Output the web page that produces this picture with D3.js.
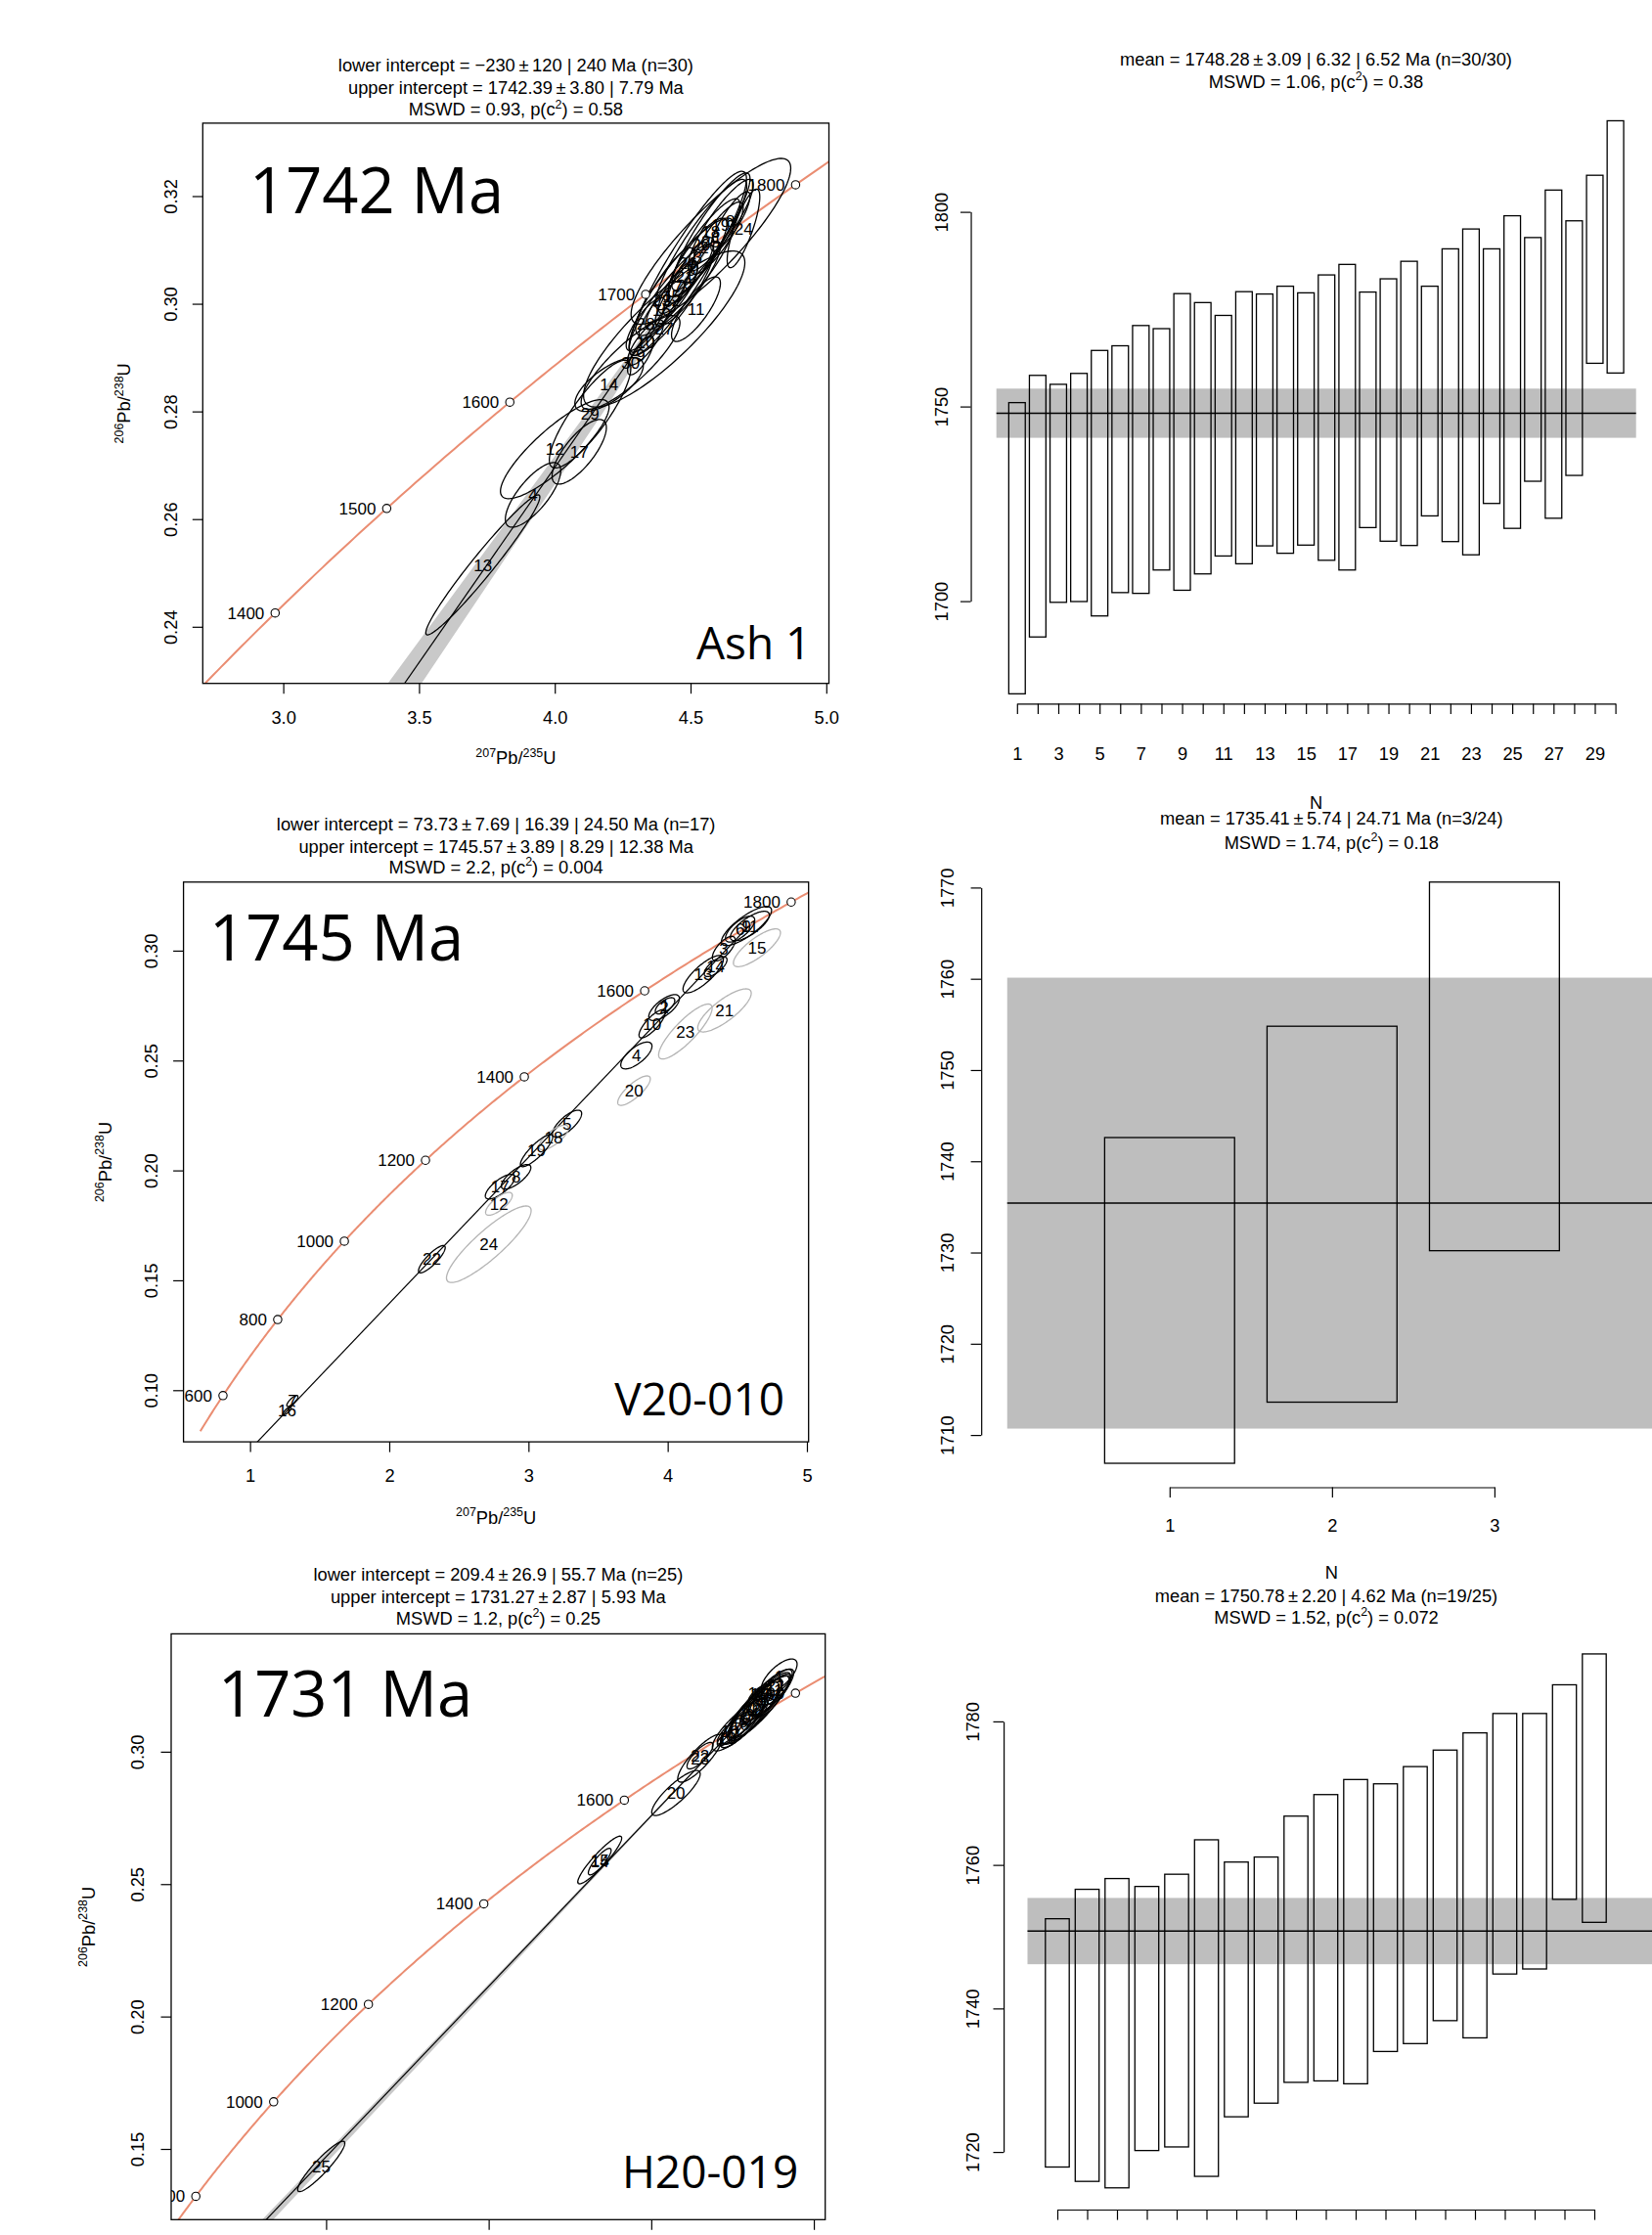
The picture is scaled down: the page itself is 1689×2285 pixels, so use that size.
<!DOCTYPE html>
<html>
<head>
<meta charset="utf-8">
<script src="https://cdn.jsdelivr.net/npm/d3@7"></script>
<style>
  body { margin: 0; background: #fff; }
  svg { display: block; font-family: "Liberation Sans", Arial, sans-serif; }
</style>
</head>
<body>
<svg id="fig" width="1689" height="2285"></svg>
<script>
'use strict';

// ---- decay constants (per Ma) ----
const LAMBDA238 = 1.55125e-4;
const LAMBDA235 = 9.8485e-4;

// ================= Ash 1 =================
const ash1Titles = [
  "lower intercept = \u2212230\u2009\u00b1\u2009120 | 240 Ma (n=30)",
  "upper intercept = 1742.39\u2009\u00b1\u20093.80 | 7.79 Ma",
  "MSWD = 0.93, p(c^{2}) = 0.58"
];
const ash1XTicks = [3.0, 3.5, 4.0, 4.5, 5.0];
const ash1YTicks = [0.24, 0.26, 0.28, 0.30, 0.32];
const ash1Ages = [1400, 1500, 1600, 1700, 1800];
const ash1AgeRange = [1300, 1850];
const ash1Intercepts = [-230, 1742.39];
// [206/238, left 207/235, right 207/235] of the grey envelope
const ash1Band = [[0.2294, 3.384, 3.508], [0.28, 4.121, 4.180], [0.3103, 4.557, 4.567]];
// [label, x, y, half x, half y, rho]
const ash1Ellipses = [
  [25, 4.575, 0.3116, 0.294, 0.0154, 0.88],
  [26, 4.490, 0.3075, 0.216, 0.0171, 0.92],
  [27, 4.403, 0.2953, 0.297, 0.0145, 0.85],
  [13, 3.735, 0.2515, 0.210, 0.0130, 0.97],
  [4, 3.920, 0.2645, 0.102, 0.0060, 0.75],
  [12, 4.000, 0.2730, 0.200, 0.0092, 0.85],
  [17, 4.090, 0.2725, 0.100, 0.0060, 0.75],
  [29, 4.130, 0.2795, 0.150, 0.0100, 0.85],
  [14, 4.200, 0.2850, 0.126, 0.0050, 0.70],
  [30, 4.279, 0.2891, 0.182, 0.0087, 0.85],
  [18, 4.575, 0.3134, 0.144, 0.0109, 0.90],
  [19, 4.611, 0.3146, 0.120, 0.0085, 0.88],
  [20, 4.539, 0.3110, 0.168, 0.0121, 0.90],
  [21, 4.478, 0.3050, 0.180, 0.0109, 0.88],
  [22, 4.430, 0.3007, 0.156, 0.0103, 0.88],
  [23, 4.394, 0.3007, 0.120, 0.0097, 0.88],
  [8, 4.647, 0.3153, 0.072, 0.0055, 0.85],
  [1, 4.598, 0.3122, 0.096, 0.0067, 0.85],
  [2, 4.550, 0.3104, 0.132, 0.0091, 0.88],
  [3, 4.526, 0.3086, 0.108, 0.0073, 0.85],
  [5, 4.502, 0.3062, 0.084, 0.0061, 0.85],
  [6, 4.490, 0.3037, 0.120, 0.0079, 0.88],
  [7, 4.454, 0.3031, 0.072, 0.0049, 0.80],
  [15, 4.430, 0.3013, 0.096, 0.0061, 0.85],
  [16, 4.394, 0.2989, 0.084, 0.0055, 0.85],
  [11, 4.520, 0.2990, 0.090, 0.0060, 0.80],
  [24, 4.695, 0.3140, 0.060, 0.0073, 0.80],
  [28, 4.335, 0.2962, 0.072, 0.0049, 0.80],
  [10, 4.334, 0.2928, 0.066, 0.0042, 0.80],
  [9, 4.316, 0.2904, 0.048, 0.0036, 0.75]
];
const ash1Rejected = [];

const ash1MeanTitles = [
  "mean = 1748.28\u2009\u00b1\u20093.09 | 6.32 | 6.52 Ma (n=30/30)",
  "MSWD = 1.06, p(c^{2}) = 0.38"
];
const ash1MeanYTicks = [1700, 1750, 1800];
const ash1Mean = [1748.28, 6.32];
const ash1Lo = [1676.2, 1690.8, 1699.7, 1699.9, 1696.2, 1702.2, 1702.0, 1708.0, 1702.8, 1707.0,
  1711.6, 1709.6, 1714.2, 1712.3, 1714.4, 1710.5, 1708.0, 1718.9, 1715.4, 1714.3,
  1721.9, 1715.3, 1711.9, 1725.1, 1718.7, 1730.8, 1721.3, 1732.3, 1761.1, 1758.6];
const ash1Hi = [1751.0, 1758.0, 1755.7, 1758.5, 1764.4, 1765.6, 1770.8, 1770.0, 1779.0, 1776.7,
  1773.4, 1779.5, 1778.9, 1780.9, 1779.2, 1783.8, 1786.5, 1779.4, 1782.8, 1787.3,
  1780.9, 1790.5, 1795.6, 1790.5, 1799.0, 1793.4, 1805.6, 1797.7, 1809.4, 1823.4];

// ================= V20-010 =================
const v20Titles = [
  "lower intercept = 73.73\u2009\u00b1\u20097.69 | 16.39 | 24.50 Ma (n=17)",
  "upper intercept = 1745.57\u2009\u00b1\u20093.89 | 8.29 | 12.38 Ma",
  "MSWD = 2.2, p(c^{2}) = 0.004"
];
const v20XTicks = [1, 2, 3, 4, 5];
const v20YTicks = [0.10, 0.15, 0.20, 0.25, 0.30];
const v20Ages = [600, 800, 1000, 1200, 1400, 1600, 1800];
const v20AgeRange = [504, 1850];
const v20Intercepts = [73.73, 1745.57];
const v20Band = null;
const v20Ellipses = [
  [9, 4.566, 0.3112, 0.180, 0.0089, 0.80],
  [6, 4.520, 0.3098, 0.105, 0.0059, 0.70],
  [11, 4.590, 0.3112, 0.140, 0.0067, 0.75],
  [3, 4.403, 0.3009, 0.082, 0.0056, 0.70],
  [15, 4.641, 0.3013, 0.169, 0.0086, 0.80],
  [13, 4.255, 0.2893, 0.145, 0.0085, 0.80],
  [14, 4.344, 0.2927, 0.082, 0.0045, 0.70],
  [2, 3.974, 0.2741, 0.110, 0.0059, 0.70],
  [1, 3.981, 0.2749, 0.070, 0.0037, 0.65],
  [10, 3.888, 0.2667, 0.094, 0.0064, 0.80],
  [4, 3.775, 0.2523, 0.112, 0.0061, 0.70],
  [21, 4.408, 0.2728, 0.192, 0.0098, 0.80],
  [23, 4.127, 0.2632, 0.192, 0.0125, 0.85],
  [20, 3.758, 0.2363, 0.117, 0.0067, 0.80],
  [5, 3.277, 0.2213, 0.105, 0.0061, 0.75],
  [18, 3.181, 0.2150, 0.106, 0.0056, 0.75],
  [19, 3.058, 0.2090, 0.116, 0.0073, 0.85],
  [8, 2.911, 0.1971, 0.106, 0.0056, 0.75],
  [17, 2.796, 0.1926, 0.106, 0.0056, 0.75],
  [12, 2.788, 0.1848, 0.096, 0.0052, 0.75],
  [24, 2.715, 0.1664, 0.304, 0.0174, 0.88],
  [22, 2.306, 0.1596, 0.096, 0.0062, 0.85],
  [7, 1.304, 0.0951, 0.040, 0.0025, 0.80],
  [16, 1.266, 0.0906, 0.030, 0.0018, 0.80]
];
const v20Rejected = [12, 15, 18, 20, 21, 23, 24];

const v20MeanTitles = [
  "mean = 1735.41\u2009\u00b1\u20095.74 | 24.71 Ma (n=3/24)",
  "MSWD = 1.74, p(c^{2}) = 0.18"
];
const v20MeanYTicks = [1710, 1720, 1730, 1740, 1750, 1760, 1770];
const v20Mean = [1735.41, 24.71];
const v20Lo = [1706.9, 1713.6, 1730.2];
const v20Hi = [1742.6, 1754.8, 1770.6];

// ================= H20-019 =================
const h20Titles = [
  "lower intercept = 209.4\u2009\u00b1\u200926.9 | 55.7 Ma (n=25)",
  "upper intercept = 1731.27\u2009\u00b1\u20092.87 | 5.93 Ma",
  "MSWD = 1.2, p(c^{2}) = 0.25"
];
const h20XTicks = [2, 3, 4, 5];
const h20YTicks = [0.15, 0.20, 0.25, 0.30];
const h20Ages = [800, 1000, 1200, 1400, 1600, 1800];
const h20AgeRange = [700, 1850];
const h20Intercepts = [209.4, 1731.27];
const h20Band = [[0.1233, 1.607, 1.675], [0.25, 3.589, 3.612], [0.3081, 4.498, 4.505]];
const h20Ellipses = [
  [1, 4.787, 0.3285, 0.110, 0.0065, 0.70],
  [2, 4.646, 0.3163, 0.160, 0.0111, 0.85],
  [3, 4.606, 0.3139, 0.180, 0.0123, 0.88],
  [4, 4.687, 0.3188, 0.120, 0.0086, 0.85],
  [5, 4.566, 0.3114, 0.140, 0.0099, 0.85],
  [6, 4.727, 0.3213, 0.120, 0.0074, 0.80],
  [7, 4.526, 0.3090, 0.100, 0.0062, 0.80],
  [8, 4.667, 0.3176, 0.200, 0.0135, 0.88],
  [9, 4.586, 0.3127, 0.110, 0.0074, 0.85],
  [10, 4.486, 0.3077, 0.080, 0.0049, 0.80],
  [11, 4.757, 0.3231, 0.100, 0.0062, 0.80],
  [12, 4.626, 0.3157, 0.080, 0.0055, 0.80],
  [13, 4.706, 0.3200, 0.150, 0.0086, 0.85],
  [16, 4.546, 0.3102, 0.170, 0.0099, 0.85],
  [17, 4.656, 0.3170, 0.220, 0.0142, 0.90],
  [19, 4.466, 0.3053, 0.060, 0.0031, 0.75],
  [21, 4.767, 0.3250, 0.090, 0.0049, 0.75],
  [24, 4.606, 0.3145, 0.130, 0.0092, 0.85],
  [18, 4.667, 0.3219, 0.070, 0.0037, 0.75],
  [20, 4.152, 0.2844, 0.149, 0.0085, 0.85],
  [23, 4.300, 0.2975, 0.137, 0.0090, 0.85],
  [22, 4.300, 0.2985, 0.080, 0.0050, 0.80],
  [15, 3.683, 0.2591, 0.135, 0.0090, 0.92],
  [14, 3.683, 0.2585, 0.070, 0.0050, 0.85],
  [25, 1.970, 0.1434, 0.145, 0.0095, 0.92]
];
const h20Rejected = [];

const h20MeanTitles = [
  "mean = 1750.78\u2009\u00b1\u20092.20 | 4.62 Ma (n=19/25)",
  "MSWD = 1.52, p(c^{2}) = 0.072"
];
const h20MeanYTicks = [1720, 1740, 1760, 1780];
const h20Mean = [1750.78, 4.62];
const h20Lo = [1717.9, 1715.9, 1715.0, 1720.2, 1720.7, 1716.6, 1724.9, 1726.8, 1729.7, 1729.9,
  1729.5, 1734.0, 1735.1, 1738.3, 1735.9, 1744.8, 1745.5, 1755.2, 1752.0];
const h20Hi = [1752.5, 1756.6, 1758.1, 1757.0, 1758.7, 1763.5, 1760.4, 1761.1, 1766.8, 1769.8,
  1771.9, 1771.3, 1773.7, 1776.0, 1778.4, 1781.1, 1781.1, 1785.1, 1789.4];

// ---------------------------------------------------------------
const FS = 18.3;
const svg = d3.select("#fig");
let clipCount = 0;

function concordia(t) {
  return [Math.expm1(LAMBDA235 * t), Math.expm1(LAMBDA238 * t)];
}

// text with ^{..} superscripts
function richText(text, str, size) {
  let raised = 0;
  str.split(/(\^\{[^}]*\})/).filter(s => s).forEach(s => {
    const sup = s.startsWith("^{");
    const target = sup ? -0.42 * size : 0;
    text.append("tspan")
      .attr("font-size", sup ? 0.68 * size : size)
      .attr("dy", target - raised)
      .text(sup ? s.slice(2, -1) : s);
    raised = target;
  });
}

function centredLines(lines, cx, ys) {
  lines.forEach((str, i) => {
    const t = svg.append("text")
      .attr("x", cx)
      .attr("y", ys[i] + 0.35 * FS)
      .attr("text-anchor", "middle")
      .attr("font-size", FS);
    richText(t, str, FS);
  });
}

function ellipsePoints(e) {
  const [, cx, cy, hx, hy, rho] = e;
  const s = Math.sqrt(1 - rho * rho);
  return d3.range(0, 2 * Math.PI + 0.01, Math.PI / 72)
    .map(t => [cx + hx * Math.cos(t), cy + hy * (rho * Math.cos(t) + s * Math.sin(t))]);
}

function concordiaPanel(p) {
  const [bx0, by0, bx1, by1] = p.box;
  const x = d3.scaleLinear().domain(p.xDomain).range([bx0, bx1]);
  const y = d3.scaleLinear().domain(p.yDomain).range([by1, by0]);
  const line = d3.line().x(d => x(d[0])).y(d => y(d[1]));

  const id = "clip" + (clipCount++);
  svg.append("clipPath").attr("id", id)
    .append("rect")
    .attr("x", bx0).attr("y", by0)
    .attr("width", bx1 - bx0).attr("height", by1 - by0);
  const g = svg.append("g").attr("clip-path", `url(#${id})`);

  // error envelope of the discordia
  if (p.band) {
    const pts = p.band.map(r => [r[1], r[0]])
      .concat(p.band.slice().reverse().map(r => [r[2], r[0]]));
    g.append("path")
      .attr("d", line(pts) + "Z")
      .attr("fill", "#c9c9c9");
  }

  // concordia curve
  const ages = d3.range(p.ageRange[0], p.ageRange[1] + 1, 4);
  g.append("path")
    .datum(ages.map(concordia))
    .attr("d", line)
    .attr("fill", "none")
    .attr("stroke", "#ea8d72")
    .attr("stroke-width", 2);

  // discordia
  g.append("path")
    .datum(p.intercepts.map(concordia))
    .attr("d", line)
    .attr("stroke", "#000")
    .attr("stroke-width", 1.2);

  // error ellipses
  g.selectAll("path.ell")
    .data(p.ellipses)
    .join("path")
    .attr("class", "ell")
    .attr("d", d => line(ellipsePoints(d)) + "Z")
    .attr("fill", "none")
    .attr("stroke", d => p.rejected.includes(d[0]) ? "#b4b4b4" : "#000")
    .attr("stroke-width", 1.3);

  // age markers
  const marks = g.append("g");
  marks.selectAll("circle")
    .data(p.ages)
    .join("circle")
    .attr("cx", d => x(concordia(d)[0]))
    .attr("cy", d => y(concordia(d)[1]))
    .attr("r", 4.2)
    .attr("fill", "#fff")
    .attr("stroke", "#000")
    .attr("stroke-width", 1.1);
  marks.selectAll("text")
    .data(p.ages)
    .join("text")
    .attr("x", d => x(concordia(d)[0]) - 11)
    .attr("y", d => y(concordia(d)[1]) + 6)
    .attr("text-anchor", "end")
    .attr("font-size", 17)
    .text(d => d);

  // ellipse numbers
  g.selectAll("text.lab")
    .data(p.ellipses)
    .join("text")
    .attr("class", "lab")
    .attr("x", d => x(d[1]))
    .attr("y", d => y(d[2]) + 6)
    .attr("text-anchor", "middle")
    .attr("font-size", 17)
    .text(d => d[0]);

  // box
  svg.append("rect")
    .attr("x", bx0).attr("y", by0)
    .attr("width", bx1 - bx0).attr("height", by1 - by0)
    .attr("fill", "none")
    .attr("stroke", "#000")
    .attr("stroke-width", 1.3);

  // axes
  const xa = svg.append("g")
    .attr("transform", `translate(0,${by1})`)
    .call(d3.axisBottom(x)
      .tickValues(p.xTicks)
      .tickFormat(p.xLabels ? d3.format(p.xFmt) : () => "")
      .tickSize(10.5)
      .tickPadding(p.xLabelOff - 10.5 - 6.4));
  xa.select(".domain").remove();
  xa.attr("font-size", null).attr("font-family", null);
  xa.selectAll("text").attr("font-size", FS).attr("fill", "#000");
  xa.selectAll("line").attr("stroke", "#000").attr("stroke-width", 1.2);

  const ya = svg.append("g")
    .attr("transform", `translate(${bx0},0)`)
    .call(d3.axisLeft(y)
      .tickValues(p.yTicks)
      .tickFormat(d3.format(p.yFmt))
      .tickSize(10.5));
  ya.select(".domain").remove();
  ya.attr("font-size", null).attr("font-family", null);
  ya.selectAll("line").attr("stroke", "#000").attr("stroke-width", 1.2);
  ya.selectAll("text")
    .attr("x", 0)
    .attr("dy", "0.35em")
    .attr("text-anchor", "middle")
    .attr("transform", `translate(${-p.yLabelOff},0) rotate(-90)`)
    .attr("font-size", FS)
    .attr("fill", "#000");

  // axis titles
  if (p.xLabels) {
    const xt = svg.append("text")
      .attr("x", (bx0 + bx1) / 2)
      .attr("y", by1 + p.xTitleOff + 0.35 * FS)
      .attr("text-anchor", "middle")
      .attr("font-size", FS);
    richText(xt, "^{207}Pb/^{235}U", FS);
  }
  const yt = svg.append("text")
    .attr("transform", `translate(${bx0 - p.yTitleOff},${(by0 + by1) / 2}) rotate(-90)`)
    .attr("y", 0.35 * FS)
    .attr("text-anchor", "middle")
    .attr("font-size", FS);
  richText(yt, "^{206}Pb/^{238}U", FS);

  centredLines(p.titles, (bx0 + bx1) / 2, p.titleY);

  // big annotations
  svg.append("text")
    .attr("x", p.agePos[0]).attr("y", p.agePos[1])
    .attr("font-family", "'Open Sans', sans-serif")
    .attr("font-size", 65)
    .text(p.ageText);
  svg.append("text")
    .attr("x", p.namePos[0]).attr("y", p.namePos[1])
    .attr("text-anchor", "end")
    .attr("font-family", "'Open Sans', sans-serif")
    .attr("font-size", 46)
    .text(p.name);
}

function meanPanel(p) {
  const n = p.lo.length;
  const x = d3.scaleLinear().domain([1, n]).range(p.xRange);
  const y = d3.scaleLinear().domain(p.yDomain).range(p.yRange);
  const [mu, err] = p.mean;

  svg.append("rect")
    .attr("x", x(0))
    .attr("width", x(p.bandEnd) - x(0))
    .attr("y", y(mu + err))
    .attr("height", y(mu - err) - y(mu + err))
    .attr("fill", "#bebebe");

  svg.append("g").selectAll("rect")
    .data(d3.zip(p.lo, p.hi))
    .join("rect")
    .attr("x", (d, i) => x(i + 1 - 0.4))
    .attr("width", x(1.8) - x(1))
    .attr("y", d => y(d[1]))
    .attr("height", d => y(d[0]) - y(d[1]))
    .attr("fill", "none")
    .attr("stroke", "#000")
    .attr("stroke-width", 1.3);

  svg.append("line")
    .attr("x1", x(0)).attr("x2", x(p.bandEnd))
    .attr("y1", y(mu)).attr("y2", y(mu))
    .attr("stroke", "#000")
    .attr("stroke-width", 1.4);

  const ticks = d3.range(1, n + 1);
  const xa = svg.append("g")
    .attr("transform", `translate(0,${p.xAxisY})`)
    .call(d3.axisBottom(x)
      .tickValues(ticks)
      .tickFormat(d => p.labelEvery && (d - 1) % p.labelEvery === 0 ? d : "")
      .tickSize(10.6)
      .tickSizeOuter(0)
      .tickPadding(p.xLabelOff - 10.6 - 6.4));
  xa.attr("font-size", null).attr("font-family", null);
  xa.selectAll("text").attr("font-size", FS).attr("fill", "#000");
  xa.selectAll("line, path").attr("stroke", "#000").attr("stroke-width", 1.2);

  const ya = svg.append("g")
    .attr("transform", `translate(${x(p.yAxisAt)},0)`)
    .call(d3.axisLeft(y)
      .tickValues(p.yTicks)
      .tickFormat(d3.format("d"))
      .tickSize(10.6)
      .tickSizeOuter(0));
  ya.attr("font-size", null).attr("font-family", null);
  ya.selectAll("line, path").attr("stroke", "#000").attr("stroke-width", 1.2);
  ya.selectAll("text")
    .attr("x", 0)
    .attr("dy", "0.35em")
    .attr("text-anchor", "middle")
    .attr("transform", `translate(${-p.yLabelOff},0) rotate(-90)`)
    .attr("font-size", FS)
    .attr("fill", "#000");

  if (p.nPos) {
    svg.append("text")
      .attr("x", p.nPos[0])
      .attr("y", p.nPos[1] + 0.35 * FS)
      .attr("text-anchor", "middle")
      .attr("font-size", FS)
      .text("N");
  }

  centredLines(p.titles, p.titleX, p.titleY);
}

// ---------------- left column ----------------
concordiaPanel({
  box: [207.3, 125.9, 847.5, 698.7],
  xDomain: [2.7035, 5.0097], yDomain: [0.22948, 0.33355],
  xTicks: ash1XTicks, yTicks: ash1YTicks, xFmt: ".1f", yFmt: ".2f", xLabels: true,
  xLabelOff: 34.3, xTitleOff: 76.1, yLabelOff: 32.9, yTitleOff: 80.3,
  titles: ash1Titles, titleY: [67, 89.7, 111.8],
  ages: ash1Ages, ageRange: ash1AgeRange, intercepts: ash1Intercepts,
  band: ash1Band, ellipses: ash1Ellipses, rejected: ash1Rejected,
  ageText: "1742 Ma", agePos: [255, 218],
  name: "Ash 1", namePos: [829.4, 674]
});

concordiaPanel({
  box: [187.6, 901.8, 826.7, 1474.1],
  xDomain: [0.522, 5.012], yDomain: [0.0765, 0.3312],
  xTicks: v20XTicks, yTicks: v20YTicks, xFmt: "d", yFmt: ".2f", xLabels: true,
  xLabelOff: 34.8, xTitleOff: 77.6, yLabelOff: 32.9, yTitleOff: 80.1,
  titles: v20Titles, titleY: [842.9, 865.1, 886.7],
  ages: v20Ages, ageRange: v20AgeRange, intercepts: v20Intercepts,
  band: v20Band, ellipses: v20Ellipses, rejected: v20Rejected,
  ageText: "1745 Ma", agePos: [214, 981.9],
  name: "V20-010", namePos: [802, 1447.4]
});

// bottom panel: the tick labels fall below the page, as in the reference
concordiaPanel({
  box: [175, 1670.4, 843.7, 2269.3],
  xDomain: [1.047, 5.07], yDomain: [0.1233, 0.3445],
  xTicks: h20XTicks, yTicks: h20YTicks, xFmt: "d", yFmt: ".2f", xLabels: false,
  xLabelOff: 34.5, xTitleOff: 77, yLabelOff: 34, yTitleOff: 84.5,
  titles: h20Titles, titleY: [1609.2, 1632.2, 1654.2],
  ages: h20Ages, ageRange: h20AgeRange, intercepts: h20Intercepts,
  band: h20Band, ellipses: h20Ellipses, rejected: h20Rejected,
  ageText: "1731 Ma", agePos: [223, 1754.5],
  name: "H20-019", namePos: [816.2, 2236.5]
});

// ---------------- right column ----------------
meanPanel({
  lo: ash1Lo, hi: ash1Hi, mean: ash1Mean,
  xRange: [1039.8, 1651.6], yDomain: [1700, 1800], yRange: [614.6, 216.6],
  yTicks: ash1MeanYTicks, xAxisY: 719.4, yAxisAt: -1.24, bandEnd: 31,
  xLabelOff: 51.4, yLabelOff: 29.5, labelEvery: 2,
  nPos: [1345.5, 820.2], titles: ash1MeanTitles, titleX: 1345.5, titleY: [60.5, 83.1]
});

meanPanel({
  lo: v20Lo, hi: v20Hi, mean: v20Mean,
  xRange: [1195.8, 1527.9], yDomain: [1710, 1770], yRange: [1467.1, 907.4],
  yTicks: v20MeanYTicks, xAxisY: 1520.5, yAxisAt: -0.16, bandEnd: 4.2,
  xLabelOff: 38.8, yLabelOff: 34.5, labelEvery: 1,
  nPos: [1361.3, 1607.9], titles: v20MeanTitles, titleX: 1361.3, titleY: [836.3, 861.5]
});

meanPanel({
  lo: h20Lo, hi: h20Hi, mean: h20Mean,
  xRange: [1081, 1630], yDomain: [1720, 1780], yRange: [2200.1, 1759.9],
  yTicks: h20MeanYTicks, xAxisY: 2259, yAxisAt: -0.8, bandEnd: 21,
  xLabelOff: 40, yLabelOff: 32, labelEvery: 0,
  nPos: null, titles: h20MeanTitles, titleX: 1356, titleY: [1631.7, 1653.3]
});
</script>
</body>
</html>
